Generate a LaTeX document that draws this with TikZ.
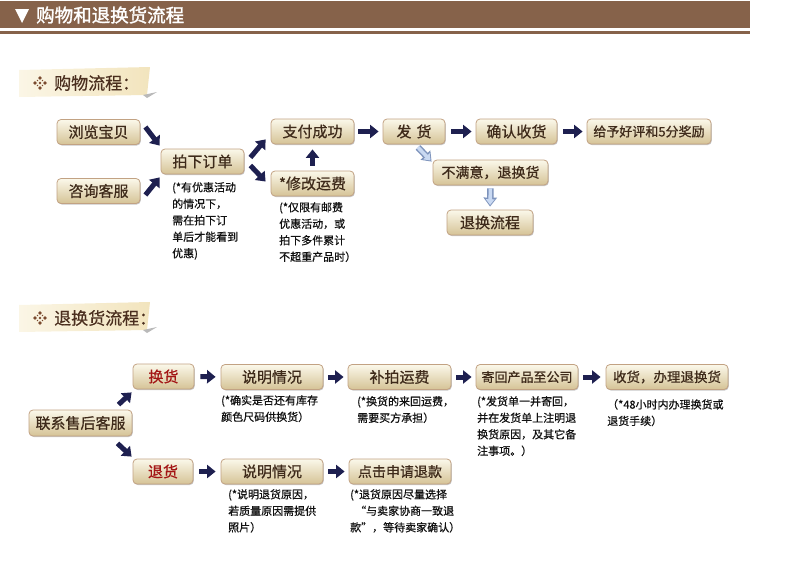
\documentclass[tikz,border=0pt]{standalone}
\usepackage{fontspec}
\setmainfont{Noto Sans CJK SC}
\usetikzlibrary{arrows.meta,shadows}
\definecolor{hdr}{HTML}{86624A}
\definecolor{navy}{HTML}{1E2050}
\definecolor{boxline}{HTML}{C2A283}
\definecolor{boxtop}{HTML}{FBF8EA}
\definecolor{boxbot}{HTML}{D5C396}
\definecolor{boxtext}{HTML}{3E2A1A}
\definecolor{redtext}{HTML}{A31515}
\definecolor{tagL}{HTML}{FBF6E6}
\definecolor{tagR}{HTML}{F2E4BD}
\definecolor{tagtext}{HTML}{4A2E1E}
\definecolor{symb}{HTML}{7A4A2E}
\definecolor{lbo}{HTML}{7D93BC}
\definecolor{lbf}{HTML}{C9D9F2}
\definecolor{notetext}{HTML}{111111}
\tikzset{
  box/.style={draw=boxline, line width=0.8pt, rounded corners=4pt,
    top color=boxtop, bottom color=boxbot, text=boxtext,
    minimum height=25pt, inner sep=0pt,
    font=\fontsize{15}{18}\selectfont\addfontfeature{FakeBold=0.7},
    drop shadow={shadow xshift=0.8pt, shadow yshift=-1pt, opacity=0.22, fill=black}},
  smallbox/.style={box, font=\fontsize{13}{16}\selectfont\addfontfeature{FakeBold=0.7}},
  redbox/.style={box, text=redtext},
  navyarrow/.style={draw=navy, line width=5pt, -{Triangle[width=13pt,length=8.5pt]}},
  lightouter/.style={draw=lbo, line width=6.5pt, -{Triangle[width=13pt,length=9pt]}},
  lightinner/.style={draw=lbf, line width=3.6pt, -{Triangle[width=8.6pt,length=5.8pt]}, shorten >=1.6pt},
  note/.style={anchor=north west, inner sep=0pt, align=left, text=notetext,
    font=\fontsize{11}{16.5}\selectfont\addfontfeature{FakeBold=0.6}},
  tagtitle/.style={anchor=west, inner sep=0pt, text=tagtext, font=\fontsize{17}{20}\selectfont\addfontfeature{FakeBold=0.6}}
}
\begin{document}
\begin{tikzpicture}[x=1pt,y=-1pt]
\useasboundingbox (0,0) rectangle (790,570);
% header
\fill[hdr] (0,1) rectangle (750,28);
\fill[hdr] (0,31) rectangle (750,34);
\fill[white] (15,9) -- (29,9) -- (22,23) -- cycle;
\node[anchor=west, inner sep=0pt, text=white, font=\fontsize{18.5}{21}\selectfont\addfontfeature{FakeBold=1.5}] (hdrtitle) at (36,15) {购物和退换货流程};
% section tag 1
\shade[left color=tagL, right color=tagR] (19,70) -- (150,67) -- (147,95) -- (19,97) -- cycle;
\fill[gray!55] (143,95) -- (157,92) -- (147,98) -- cycle;
\begin{scope}[shift={(40,83)}]
  \fill[symb] (0,0) circle (1.3);
  \foreach \a in {0,90,180,270}{
    \fill[symb, rotate=\a] (3,0) -- (5,-1.8) -- (7,0) -- (5,1.8) -- cycle;
    \fill[symb, rotate=\a+45] (3.6,0) circle (0.8);
  }
\end{scope}
\node[tagtitle] (tag1) at (54,83) {购物流程：};
% section tag 2
\shade[left color=tagL, right color=tagR] (19,305) -- (150,302) -- (147,330) -- (19,332) -- cycle;
\fill[gray!55] (143,330) -- (157,327) -- (147,333) -- cycle;
\begin{scope}[shift={(40,318)}]
  \fill[symb] (0,0) circle (1.3);
  \foreach \a in {0,90,180,270}{
    \fill[symb, rotate=\a] (3,0) -- (5,-1.8) -- (7,0) -- (5,1.8) -- cycle;
    \fill[symb, rotate=\a+45] (3.6,0) circle (0.8);
  }
\end{scope}
\node[tagtitle] (tag2) at (54,318) {退换货流程：};

% ---------- flow 1 ----------
\node[box, minimum width=83pt] (b1) at (98.5,132) {浏览宝贝};
\node[box, minimum width=83pt] (b2) at (98.5,191) {咨询客服};
\node[box, minimum width=83pt] (b3) at (202.5,161.5) {拍下订单};
\node[box, minimum width=83pt] (b4) at (312.5,131.5) {支付成功};
\node[box, minimum width=83pt] (b5) at (312.5,183.5) {*修改运费};
\node[box, minimum width=62pt] (b6) at (414,131.5) {发\,\,货};
\node[box, minimum width=81pt] (b7) at (516.5,131.5) {确认收货};
\node[smallbox, minimum width=124pt] (b8) at (649,131.5) {给予好评和5分奖励};
\node[box, minimum width=115pt, font=\fontsize{14}{17}\selectfont\addfontfeature{FakeBold=0.7}] (b9) at (490.5,172.5) {不满意，退换货};
\node[box, minimum width=86pt] (b10) at (490,222.5) {退换流程};

\draw[navyarrow] ([xshift=5pt,yshift=5pt]b1.east) -- ([xshift=-1pt,yshift=3pt]b3.north west);
\draw[navyarrow] ([xshift=5pt,yshift=-4pt]b2.east) -- ([xshift=-1pt,yshift=-3pt]b3.south west);
\draw[navyarrow] ([xshift=6pt,yshift=4pt]b3.east) -- ([xshift=-5pt,yshift=5pt]b4.south west);
\draw[navyarrow] ([xshift=6pt,yshift=-4pt]b3.east) -- ([xshift=-5pt,yshift=2pt]b5.west);
\draw[navyarrow, shorten <=5pt, shorten >=5pt] (b5.north) -- (b4.south);
\draw[navyarrow, shorten <=4pt, shorten >=4pt] (b4.east) -- (b6.west);
\draw[navyarrow, shorten <=6pt, shorten >=4pt] (b6.east) -- (b7.west);
\draw[navyarrow, shorten <=6pt, shorten >=4pt] (b7.east) -- (b8.west);
\draw[lightouter] ([xshift=4pt,yshift=-3pt]b6.south) -- ([xshift=-1pt,yshift=-2pt]b9.north west);
\draw[lightinner] ([xshift=4pt,yshift=-3pt]b6.south) -- ([xshift=-1pt,yshift=-2pt]b9.north west);
\draw[lightouter, shorten <=3pt, shorten >=3pt] (b9.south) -- (b10.north);
\draw[lightinner, shorten <=3pt, shorten >=4.6pt] (b9.south) -- (b10.north);

\node[note] (n1) at (172,182) {(*有优惠活动\\的情况下，\\需在拍下订\\单后才能看到\\优惠)};
\node[note] (n2) at (279,202) {(*仅限有邮费\\优惠活动，或\\拍下多件累计\\不超重产品时）};

% ---------- flow 2 ----------
\node[box, minimum width=103pt, minimum height=26pt] (c0) at (80.5,423) {联系售后客服};
\node[redbox, minimum width=61pt] (c1) at (163.5,376.5) {换货};
\node[box, minimum width=102pt] (c2) at (272,377) {说明情况};
\node[box, minimum width=103pt] (c3) at (399.5,377) {补拍运费};
\node[smallbox, minimum width=102pt] (c4) at (527,377) {寄回产品至公司};
\node[smallbox, minimum width=122pt, font=\fontsize{13.5}{16}\selectfont\addfontfeature{FakeBold=0.7}] (c5) at (667,377) {收货，办理退换货};
\node[redbox, minimum width=60pt] (d1) at (163,471.5) {退货};
\node[box, minimum width=102pt] (d2) at (272,471.5) {说明情况};
\node[box, minimum width=102pt, font=\fontsize{14}{17}\selectfont\addfontfeature{FakeBold=0.7}] (d3) at (400,471.5) {点击申请退款};

\draw[navyarrow] ([xshift=38pt,yshift=5pt]c0.north) -- ([xshift=-1pt,yshift=-3pt]c1.south west);
\draw[navyarrow] ([xshift=37pt,yshift=-7pt]c0.south) -- ([xshift=-1pt,yshift=2pt]d1.north west);
\draw[navyarrow, shorten <=6pt, shorten >=5pt] (c1.east) -- (c2.west);
\draw[navyarrow, shorten <=5pt, shorten >=4pt] (c2.east) -- (c3.west);
\draw[navyarrow, shorten <=5pt, shorten >=4pt] (c3.east) -- (c4.west);
\draw[navyarrow, shorten <=5pt, shorten >=5pt] (c4.east) -- (c5.west);
\draw[navyarrow, shorten <=6pt, shorten >=5pt] (d1.east) -- (d2.west);
\draw[navyarrow, shorten <=5pt, shorten >=4pt] (d2.east) -- (d3.west);

\node[note] (m2) at (221,395) {(*确实是否还有库存\\颜色尺码供换货）};
\node[note] (m3) at (357,396) {(*换货的来回运费，\\需要买方承担）};
\node[note] (m4) at (477,396) {(*发货单一并寄回，\\并在发货单上注明退\\换货原因，及其它备\\注事项。）};
\node[note] (m5) at (607,399) {（*48小时内办理换货或\\退货手续）};
\node[note] (e2) at (228,489) {(*说明退货原因，\\若质量原因需提供\\照片）};
\node[note] (e3) at (350,489) {(*退货原因尽量选择\\\ \ “与卖家协商一致退\\款”，等待卖家确认）};
\end{tikzpicture}
\end{document}
